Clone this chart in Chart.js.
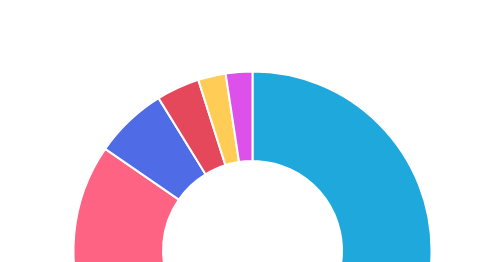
<!DOCTYPE html>
<html>
<head>
<meta charset="utf-8">
<script src="https://cdn.jsdelivr.net/npm/chart.js@4/dist/chart.umd.min.js"></script>
<style>
  html, body { margin: 0; padding: 0; background: #fff; overflow: hidden; }
  #wrap { width: 500px; height: 262px; overflow: hidden; }
</style>
</head>
<body>
<div id="wrap">
  <canvas id="grafico" width="500" height="501"></canvas>
</div>
<script>
// valores (sentido horário a partir do topo)
const categorias = ["A", "B", "C", "D", "E", "F"];
const valores = [52, 32.7, 6.6, 3.9, 2.5, 2.4];
const cores = ["#1ea8dc", "#ff6384", "#506be6", "#e6485b", "#ffcd56", "#dd50ea"];

document.addEventListener("DOMContentLoaded", function () {
  const ctx = document.getElementById("grafico").getContext("2d");
  new Chart(ctx, {
    type: "doughnut",
    data: {
      labels: categorias,
      datasets: [{
        data: valores,
        backgroundColor: cores,
        borderColor: "#fff",
        borderWidth: 2,
        radius: 179
      }]
    },
    options: {
      responsive: false,
      animation: false,
      layout: { padding: { left: 5 } },
      plugins: {
        legend: { display: false },
        tooltip: { enabled: false }
      }
    }
  });
});
</script>
</body>
</html>
